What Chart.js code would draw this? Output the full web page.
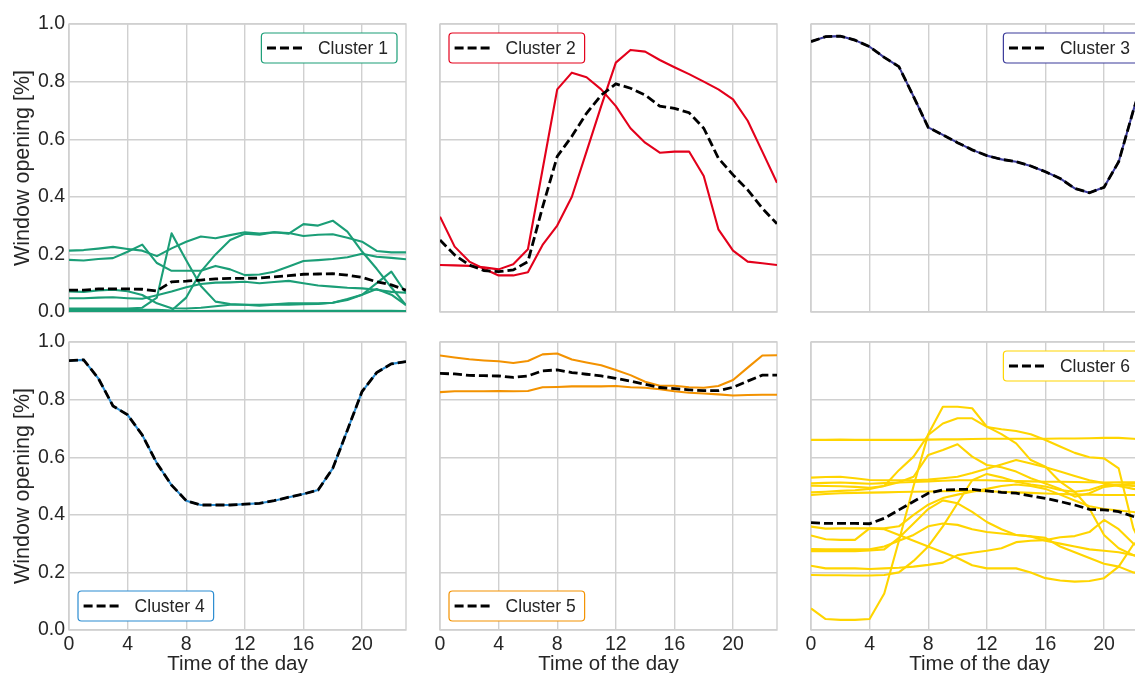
<!DOCTYPE html>
<html>
<head>
<meta charset="utf-8">
<title>Window opening clusters</title>
<script src="https://cdn.jsdelivr.net/npm/chart.js@4.4.1/dist/chart.umd.min.js"></script>
<style>
  html, body { margin: 0; padding: 0; background: #ffffff; overflow: hidden; width: 1135px; height: 673px; }
  canvas { position: absolute; }
</style>
</head>
<body>
<canvas id="p1"></canvas>
<canvas id="p2"></canvas>
<canvas id="p3"></canvas>
<canvas id="p4"></canvas>
<canvas id="p5"></canvas>
<canvas id="p6"></canvas>
<script>
// Hour of the day (x values) and axis ticks
const hours = [0,1,2,3,4,5,6,7,8,9,10,11,12,13,14,15,16,17,18,19,20,21,22,23];
const xTickStep = 4;
const yTickStep = 0.2;

// Cluster 1 — members and mean profile
const c1Lines = [
  [0.213,0.215,0.220,0.226,0.219,0.213,0.194,0.221,0.244,0.262,0.256,0.267,0.277,0.272,0.277,0.274,0.264,0.268,0.270,0.258,0.244,0.212,0.207,0.207],
  [0.181,0.179,0.184,0.187,0.209,0.234,0.170,0.143,0.143,0.143,0.160,0.148,0.128,0.130,0.140,0.158,0.177,0.180,0.184,0.190,0.202,0.192,0.188,0.183],
  [0.048,0.048,0.050,0.051,0.048,0.046,0.058,0.071,0.086,0.097,0.102,0.103,0.105,0.100,0.104,0.108,0.100,0.092,0.088,0.084,0.082,0.077,0.070,0.067],
  [0.071,0.070,0.075,0.077,0.072,0.059,0.030,0.013,0.012,0.015,0.020,0.025,0.025,0.025,0.027,0.030,0.030,0.030,0.032,0.045,0.060,0.080,0.060,0.024],
  [0.012,0.012,0.012,0.012,0.012,0.015,0.050,0.273,0.180,0.090,0.036,0.028,0.025,0.022,0.025,0.025,0.027,0.028,0.032,0.042,0.060,0.100,0.140,0.065],
  [0.008,0.008,0.008,0.008,0.008,0.008,0.008,0.005,0.050,0.140,0.200,0.250,0.272,0.268,0.277,0.272,0.305,0.300,0.317,0.279,0.210,0.150,0.085,0.024],
  [0.003,0.003,0.003,0.003,0.003,0.003,0.003,0.003,0.003,0.003,0.004,0.004,0.004,0.004,0.004,0.004,0.004,0.004,0.004,0.004,0.004,0.004,0.004,0.003]
];
const c1Mean = [0.076,0.076,0.080,0.080,0.080,0.079,0.073,0.105,0.107,0.111,0.115,0.117,0.117,0.118,0.122,0.126,0.131,0.132,0.133,0.128,0.120,0.105,0.094,0.076];

// Cluster 2
const c2Lines = [
  [0.331,0.227,0.175,0.150,0.127,0.127,0.138,0.233,0.300,0.400,0.557,0.715,0.866,0.910,0.904,0.875,0.850,0.826,0.800,0.773,0.738,0.664,0.557,0.449],
  [0.163,0.162,0.160,0.155,0.148,0.166,0.218,0.495,0.773,0.831,0.815,0.773,0.715,0.638,0.588,0.553,0.557,0.557,0.472,0.287,0.213,0.175,0.169,0.163]
];
const c2Mean = [0.250,0.198,0.163,0.144,0.140,0.146,0.175,0.364,0.540,0.610,0.690,0.753,0.792,0.777,0.753,0.715,0.707,0.692,0.638,0.534,0.476,0.424,0.360,0.306];

// Cluster 3 (single member, equal to its mean)
const c3Lines = [
  [0.939,0.956,0.958,0.944,0.921,0.884,0.852,0.748,0.641,0.615,0.588,0.563,0.543,0.530,0.522,0.507,0.487,0.464,0.429,0.414,0.433,0.522,0.700,0.860]
];
const c3Mean = [0.939,0.956,0.958,0.944,0.921,0.884,0.852,0.748,0.641,0.615,0.588,0.563,0.543,0.530,0.522,0.507,0.487,0.464,0.429,0.414,0.433,0.522,0.700,0.860];

// Cluster 4 (single member, equal to its mean)
const c4Lines = [
  [0.935,0.938,0.874,0.778,0.747,0.677,0.579,0.503,0.449,0.434,0.434,0.434,0.437,0.440,0.449,0.461,0.472,0.486,0.561,0.694,0.828,0.894,0.924,0.932]
];
const c4Mean = [0.935,0.938,0.874,0.778,0.747,0.677,0.579,0.503,0.449,0.434,0.434,0.434,0.437,0.440,0.449,0.461,0.472,0.486,0.561,0.694,0.828,0.894,0.924,0.932];

// Cluster 5
const c5Lines = [
  [0.953,0.946,0.940,0.936,0.933,0.927,0.934,0.957,0.960,0.939,0.929,0.919,0.903,0.885,0.862,0.848,0.848,0.843,0.841,0.847,0.868,0.911,0.953,0.954],
  [0.826,0.829,0.829,0.829,0.830,0.829,0.830,0.843,0.844,0.846,0.846,0.846,0.847,0.843,0.841,0.836,0.829,0.824,0.821,0.818,0.814,0.816,0.817,0.817]
];
const c5Mean = [0.891,0.889,0.884,0.883,0.882,0.877,0.882,0.900,0.903,0.894,0.888,0.882,0.874,0.864,0.853,0.842,0.838,0.834,0.831,0.831,0.843,0.864,0.885,0.885];

// Cluster 6
const c6Lines = [
  [0.660,0.660,0.661,0.660,0.660,0.660,0.660,0.660,0.661,0.662,0.662,0.663,0.664,0.664,0.664,0.664,0.664,0.665,0.665,0.666,0.667,0.667,0.664,0.660],
  [0.075,0.038,0.035,0.035,0.038,0.127,0.310,0.500,0.680,0.775,0.775,0.770,0.706,0.680,0.648,0.590,0.567,0.515,0.480,0.422,0.330,0.284,0.260,0.240],
  [0.478,0.480,0.483,0.485,0.490,0.500,0.555,0.602,0.677,0.717,0.735,0.735,0.705,0.697,0.691,0.680,0.660,0.637,0.615,0.600,0.596,0.561,0.353,0.250],
  [0.501,0.500,0.499,0.497,0.494,0.500,0.513,0.532,0.608,0.625,0.645,0.602,0.573,0.565,0.550,0.527,0.509,0.490,0.463,0.475,0.497,0.503,0.500,0.498],
  [0.529,0.531,0.532,0.527,0.521,0.520,0.520,0.520,0.522,0.527,0.532,0.545,0.560,0.575,0.590,0.578,0.565,0.550,0.535,0.520,0.510,0.500,0.490,0.485],
  [0.509,0.511,0.512,0.510,0.508,0.510,0.512,0.514,0.516,0.518,0.520,0.520,0.520,0.518,0.517,0.516,0.515,0.515,0.514,0.513,0.512,0.513,0.513,0.512],
  [0.469,0.472,0.475,0.476,0.477,0.478,0.479,0.480,0.481,0.482,0.483,0.483,0.482,0.480,0.478,0.476,0.474,0.472,0.471,0.470,0.469,0.469,0.469,0.469],
  [0.359,0.352,0.353,0.353,0.353,0.353,0.360,0.400,0.435,0.458,0.470,0.480,0.490,0.500,0.505,0.500,0.490,0.470,0.450,0.430,0.420,0.415,0.410,0.400],
  [0.328,0.315,0.313,0.313,0.353,0.350,0.330,0.310,0.290,0.270,0.250,0.225,0.214,0.214,0.214,0.200,0.180,0.172,0.168,0.170,0.180,0.220,0.297,0.330],
  [0.281,0.280,0.280,0.280,0.280,0.290,0.310,0.330,0.360,0.370,0.365,0.350,0.340,0.335,0.330,0.325,0.310,0.300,0.290,0.280,0.275,0.270,0.260,0.250],
  [0.274,0.274,0.274,0.274,0.276,0.280,0.320,0.370,0.420,0.450,0.440,0.410,0.375,0.350,0.330,0.325,0.320,0.290,0.270,0.250,0.230,0.220,0.200,0.190],
  [0.223,0.214,0.214,0.214,0.212,0.214,0.216,0.220,0.226,0.234,0.260,0.268,0.275,0.284,0.305,0.310,0.312,0.322,0.326,0.340,0.382,0.350,0.300,0.270],
  [0.191,0.190,0.190,0.189,0.189,0.191,0.200,0.240,0.290,0.360,0.440,0.520,0.542,0.530,0.515,0.505,0.498,0.486,0.480,0.486,0.503,0.505,0.508,0.510]
];
const c6Mean = [0.373,0.370,0.370,0.370,0.369,0.388,0.417,0.446,0.475,0.486,0.488,0.488,0.483,0.478,0.475,0.466,0.457,0.446,0.434,0.419,0.417,0.411,0.394,0.380];

// Labels and colours
const clusterNames = ['Cluster 1','Cluster 2','Cluster 3','Cluster 4','Cluster 5','Cluster 6'];
const clusterColors = ['#1b9e77','#e3001b','#3a3a9a','#2b8cd1','#f39200','#ffd500'];
const yTitle = 'Window opening [%]';
const xTitle = 'Time of the day';

// Page geometry of the 2x3 grid of plot areas
const PLOT_LEFT = [69, 440, 811];
const PLOT_TOP = [24, 342];
const PLOT_W = 337, PLOT_H = 288;
const AXIS_W = 69, PAD_TOP = 24, PAD_RIGHT = 12;

const FONT = '"Liberation Sans", Arial, Helvetica, sans-serif';
const TEXT = '#262626';
const GRID = '#d0d0d0';

const toPoints = vals => vals.map((v, i) => ({ x: hours[i], y: v }));

// Light-grey frame around each plot area
const frame = {
  id: 'frame',
  beforeDatasetsDraw(chart) {
    const { ctx, chartArea: a } = chart;
    ctx.save();
    ctx.strokeStyle = GRID;
    ctx.lineWidth = 1.4;
    ctx.strokeRect(a.left, a.top, a.right - a.left, a.bottom - a.top);
    ctx.restore();
  }
};

// Boxed legend drawn inside a corner of the plot area
const cornerLegend = {
  id: 'cornerLegend',
  afterDatasetsDraw(chart, args, opts) {
    const { ctx, chartArea: a } = chart;
    ctx.save();
    ctx.font = '17.5px ' + FONT;
    const tw = ctx.measureText(opts.text).width;
    const w = 5.6 + 36.7 + 14.3 + tw + 9;
    const h = 30, inset = 9;
    const x = opts.corner[1] === 'r' ? a.right - inset - w : a.left + inset;
    const y = opts.corner[0] === 'u' ? a.top + inset : a.bottom - inset - h;
    ctx.beginPath();
    ctx.roundRect(x, y, w, h, 3.5);
    ctx.fillStyle = '#ffffff';
    ctx.fill();
    ctx.lineWidth = 1.2;
    ctx.strokeStyle = opts.color;
    ctx.stroke();
    ctx.beginPath();
    ctx.setLineDash([9, 4]);
    ctx.lineWidth = 2.8;
    ctx.strokeStyle = '#000000';
    ctx.moveTo(x + 5.6, y + h / 2);
    ctx.lineTo(x + 42.3, y + h / 2);
    ctx.stroke();
    ctx.setLineDash([]);
    ctx.fillStyle = TEXT;
    ctx.textBaseline = 'middle';
    ctx.textAlign = 'left';
    ctx.fillText(opts.text, x + 56.6, y + h / 2 + 1);
    ctx.restore();
  }
};

function panel(id, idx, col, row, lines, mean, corner) {
  const canvas = document.getElementById(id);
  const H = row === 0 ? 330 : 362;
  const W = AXIS_W + PLOT_W + PAD_RIGHT;
  const xAxisH = H - PAD_TOP - PLOT_H;
  canvas.width = W;
  canvas.height = H;
  canvas.style.width = W + 'px';
  canvas.style.height = H + 'px';
  canvas.style.left = (PLOT_LEFT[col] - AXIS_W) + 'px';
  canvas.style.top = (PLOT_TOP[row] - PAD_TOP) + 'px';

  const color = clusterColors[idx];
  const datasets = [{
    data: toPoints(mean),
    borderColor: '#000000',
    borderWidth: 2.8,
    borderDash: [9, 4],
    borderCapStyle: 'butt',
    order: 0
  }].concat(lines.map(s => ({
    data: toPoints(s),
    borderColor: color,
    borderWidth: 2.1,
    borderJoinStyle: 'round',
    order: 1
  })));

  new Chart(canvas, {
    type: 'line',
    data: { datasets },
    plugins: [frame, cornerLegend],
    options: {
      responsive: false,
      animation: false,
      devicePixelRatio: 1,
      layout: { padding: { top: PAD_TOP, right: PAD_RIGHT, left: 0, bottom: 0 } },
      elements: { point: { radius: 0 }, line: { tension: 0, fill: false } },
      plugins: {
        legend: { display: false },
        tooltip: { enabled: false },
        cornerLegend: { text: clusterNames[idx], color: color, corner: corner }
      },
      scales: {
        x: {
          type: 'linear',
          min: 0,
          max: 23,
          afterFit: s => { s.height = xAxisH; },
          border: { display: false },
          grid: { color: GRID, lineWidth: 1.4, drawTicks: false },
          ticks: {
            display: row === 1,
            stepSize: xTickStep,
            includeBounds: false,
            padding: 3,
            color: TEXT,
            font: { family: FONT, size: 19.5 },
            maxRotation: 0,
            callback: v => String(v)
          },
          title: {
            display: row === 1,
            text: xTitle,
            color: TEXT,
            font: { family: FONT, size: 20.5 },
            padding: { top: 0, bottom: 3 }
          }
        },
        y: {
          min: 0,
          max: 1,
          afterFit: s => { s.width = AXIS_W; },
          border: { display: false },
          grid: { color: GRID, lineWidth: 1.4, drawTicks: false },
          ticks: {
            display: col === 0,
            stepSize: yTickStep,
            padding: 4,
            color: TEXT,
            font: { family: FONT, size: 19.5 },
            callback: v => Number(v).toFixed(1)
          },
          title: {
            display: col === 0,
            text: yTitle,
            color: TEXT,
            font: { family: FONT, size: 21.5 },
            padding: { top: 10, bottom: 0 }
          }
        }
      }
    }
  });
}

panel('p1', 0, 0, 0, c1Lines, c1Mean, 'ur');
panel('p2', 1, 1, 0, c2Lines, c2Mean, 'ul');
panel('p3', 2, 2, 0, c3Lines, c3Mean, 'ur');
panel('p4', 3, 0, 1, c4Lines, c4Mean, 'll');
panel('p5', 4, 1, 1, c5Lines, c5Mean, 'll');
panel('p6', 5, 2, 1, c6Lines, c6Mean, 'ur');
</script>
</body>
</html>
